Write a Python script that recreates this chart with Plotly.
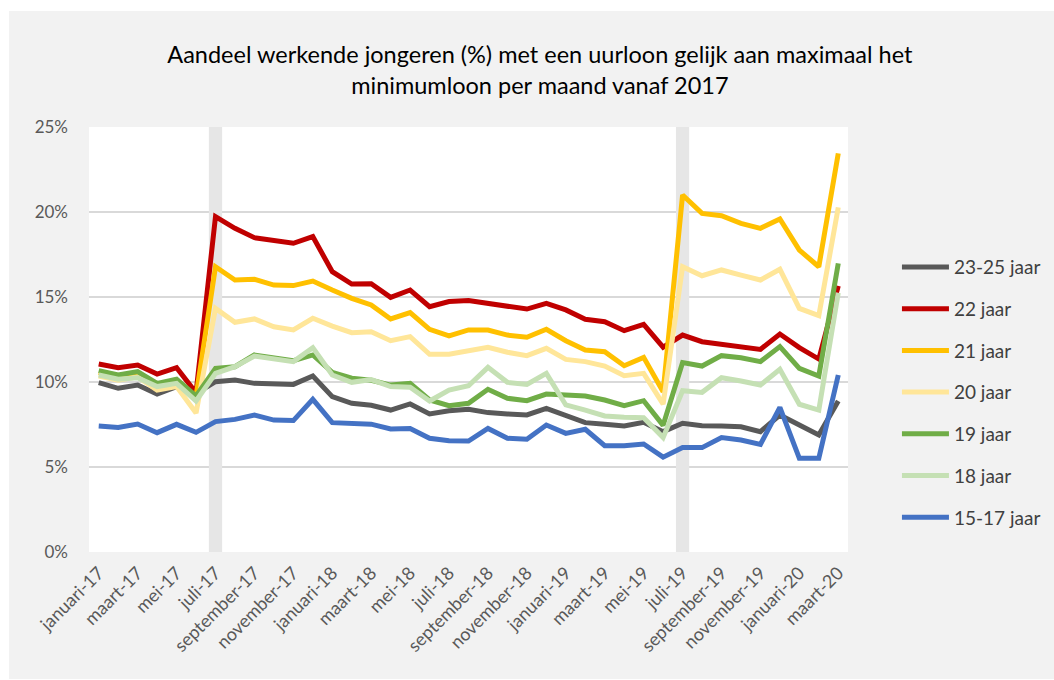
import plotly.graph_objects as go

months = ["januari", "februari", "maart", "april", "mei", "juni", "juli", "augustus",
          "september", "oktober", "november", "december"]
years = ["17", "18", "19", "20"]
categories = [f"{m}-{y}" for y in years for m in months][:39]

s_23_25 = [9.96, 9.63, 9.82, 9.29, 9.73, 9.33, 10.02, 10.12, 9.92, 9.88, 9.86, 10.35, 9.14, 8.75, 8.63,
           8.35, 8.71, 8.12, 8.31, 8.39, 8.20, 8.12, 8.06, 8.45, 8.06, 7.61, 7.51, 7.41, 7.63, 7.08,
           7.57, 7.43, 7.41, 7.37, 7.08, 8.06, 7.47, 6.88, 8.88]
s_22 = [11.06, 10.84, 11.0, 10.47, 10.84, 9.37, 19.73, 19.04, 18.49, 18.35, 18.16, 18.55, 16.49, 15.76, 15.78,
        14.98, 15.41, 14.43, 14.73, 14.79, 14.63, 14.43, 14.29, 14.63, 14.24, 13.69, 13.55, 13.02, 13.39, 12.05,
        12.76, 12.37, 12.22, 12.04, 11.92, 12.82, 12.02, 11.35, 15.65]
s_21 = [10.55, 10.35, 10.5, 9.85, 10.05, 9.15, 16.78, 16.0, 16.04, 15.7, 15.67, 15.94, 15.41, 14.92, 14.53,
        13.71, 14.08, 13.1, 12.71, 13.06, 13.06, 12.76, 12.63, 13.1, 12.43, 11.88, 11.78, 10.96, 11.45, 9.43,
        21.0, 19.92, 19.78, 19.33, 19.04, 19.59, 17.76, 16.78, 23.45]
s_20 = [10.35, 10.1, 10.3, 9.53, 9.73, 8.18, 14.33, 13.51, 13.71, 13.25, 13.06, 13.75, 13.29, 12.9, 12.96,
        12.43, 12.67, 11.63, 11.63, 11.84, 12.04, 11.75, 11.55, 11.98, 11.33, 11.2, 10.94, 10.37, 10.51, 8.7,
        16.78, 16.25, 16.59, 16.29, 16.0, 16.63, 14.33, 13.9, 20.27]
s_19 = [10.67, 10.41, 10.61, 9.92, 10.16, 9.18, 10.8, 10.9, 11.59, 11.39, 11.25, 11.59, 10.57, 10.22, 10.1,
        9.82, 9.92, 8.94, 8.61, 8.75, 9.57, 9.04, 8.9, 9.29, 9.24, 9.18, 8.94, 8.61, 8.9, 7.45,
        11.14, 10.94, 11.55, 11.43, 11.2, 12.08, 10.8, 10.35, 16.98]
s_18 = [10.41, 10.16, 10.25, 9.73, 9.92, 8.88, 10.51, 10.9, 11.53, 11.33, 11.2, 12.02, 10.41, 9.98, 10.14,
        9.73, 9.69, 8.88, 9.53, 9.78, 10.86, 9.98, 9.86, 10.51, 8.65, 8.35, 8.0, 7.92, 7.9, 6.73,
        9.49, 9.39, 10.25, 10.06, 9.82, 10.75, 8.69, 8.35, 15.25]
s_15_17 = [7.41, 7.33, 7.53, 7.02, 7.51, 7.04, 7.67, 7.8, 8.06, 7.76, 7.73, 8.98, 7.61, 7.57, 7.52,
           7.24, 7.27, 6.69, 6.55, 6.53, 7.27, 6.69, 6.63, 7.47, 6.98, 7.22, 6.25, 6.25, 6.35, 5.58,
           6.14, 6.14, 6.73, 6.59, 6.33, 8.51, 5.51, 5.51, 10.41]

band_months = ["juli-17", "juli-19"]
band_value = 25

series = [
    ("23-25 jaar", s_23_25, "#595959"),
    ("22 jaar", s_22, "#C00000"),
    ("21 jaar", s_21, "#FFC000"),
    ("20 jaar", s_20, "#FFE699"),
    ("19 jaar", s_19, "#70AD47"),
    ("18 jaar", s_18, "#C5E0B4"),
    ("15-17 jaar", s_15_17, "#4472C4"),
]

FONT = "Lato, 'Open Sans', sans-serif"

fig = go.Figure()
fig.add_trace(go.Bar(
    x=band_months, y=[band_value / 100] * len(band_months),
    marker_color="#E6E6E6", marker_line_width=0, width=0.68,
    showlegend=False, hoverinfo="skip"))

for name, vals, color in series:
    fig.add_trace(go.Scatter(
        x=categories, y=[v / 100 for v in vals], name=name, mode="lines",
        line=dict(color=color, width=5), legendgroup=name))

fig.update_layout(
    width=1045, height=668,
    paper_bgcolor="#F2F2F2", plot_bgcolor="#FFFFFF",
    margin=dict(l=80, r=206, t=116, b=127, autoexpand=False),
    font=dict(family=FONT, color="#595959", size=15),
    title=dict(text="Aandeel werkende jongeren (%) met een uurloon gelijk aan maximaal het<br>minimumloon per maand vanaf 2017",
               x=0.508, xanchor="center", y=0.922, yanchor="middle",
               font=dict(family=FONT, size=23.5, color="#000000")),
    showlegend=True,
    legend=dict(x=1.0645, xanchor="left", y=0.715, yanchor="top",
                font=dict(family=FONT, size=19, color="#404040"),
                tracegroupgap=14, bgcolor="rgba(0,0,0,0)", itemwidth=47),
    bargap=0.3,
)
fig.update_xaxes(type="category", categoryorder="array", categoryarray=categories,
                 range=[-0.5, len(categories) - 0.5],
                 tickmode="array", tickvals=categories[::2], ticktext=categories[::2],
                 tickangle=-45, showgrid=False, showline=False, zeroline=False,
                 ticks="", ticklabelstandoff=6, tickfont=dict(size=18, color="#595959"))
fig.update_yaxes(range=[0, 0.25], dtick=0.05, tickformat=".0%", showgrid=True,
                 gridcolor="#D9D9D9", gridwidth=1.5, zeroline=False, showline=False,
                 ticks="", ticklabelstandoff=20, tickfont=dict(size=17, color="#595959"))

fig.write_html("out.html",
               post_script="document.body.style.margin='11px 0 0 9px';document.body.style.overflow='hidden';")
